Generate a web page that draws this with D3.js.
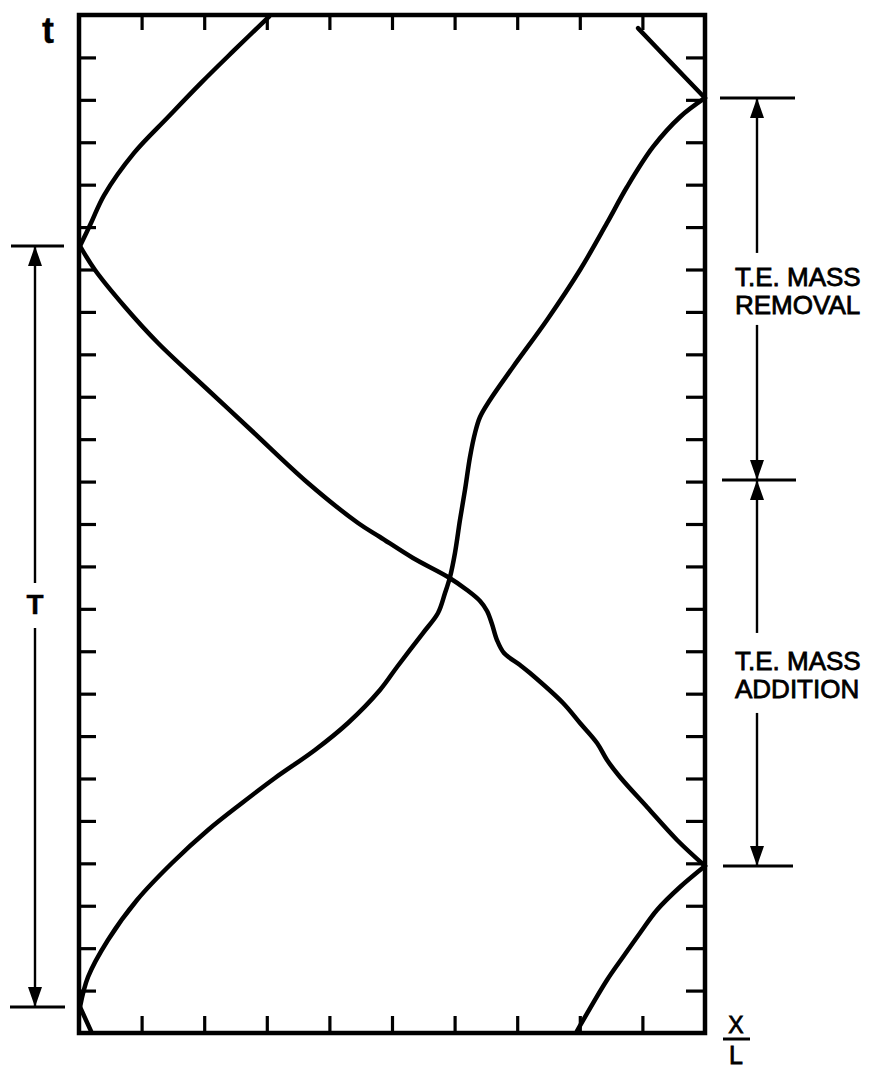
<!DOCTYPE html>
<html>
<head>
<meta charset="utf-8">
<script src="https://cdn.jsdelivr.net/npm/d3@7"></script>
<style>
  html, body { margin: 0; padding: 0; background: #fff; }
  svg { display: block; }
  text { font-family: "Liberation Sans", Arial, sans-serif; fill: #000; }
</style>
</head>
<body>
<div id="chart"></div>
<script>
// x/L positions of the ticks and t positions (in tick units)
const xTicks = [0.1, 0.2, 0.3, 0.4, 0.5, 0.6, 0.7, 0.8, 0.9];
const tTicks = d3.range(1, 24);

// wave paths: [x/L, t]
const waveUp = [
  [0.0016, 0.613], [0.0144, 1.320], [0.0463, 2.193], [0.0927, 3.136], [0.1486, 4.008],
  [0.2061, 4.786], [0.2604, 5.422], [0.3131, 6.012], [0.3770, 6.672], [0.4297, 7.309],
  [0.4808, 8.087], [0.5080, 8.629], [0.5495, 9.430], [0.5735, 9.902], [0.5847, 10.373],
  [0.5927, 10.751], [0.6006, 11.316], [0.6086, 12.095], [0.6166, 12.802], [0.6246, 13.580],
  [0.6326, 14.146], [0.6406, 14.523], [0.6565, 14.924], [0.6933, 15.702], [0.7476, 16.810],
  [0.8003, 17.988], [0.8435, 19.097], [0.8754, 19.945], [0.9169, 20.889], [0.9601, 21.596],
  [1.0, 22.044]
];
const waveDown = [
  [0.0016, 18.554], [0.0256, 17.988], [0.0735, 17.116], [0.1262, 16.267], [0.2061, 15.159],
  [0.2764, 14.193], [0.3658, 12.967], [0.4457, 12.024], [0.4808, 11.694], [0.5335, 11.199],
  [0.5895, 10.751], [0.6198, 10.444], [0.6406, 10.185], [0.6518, 9.949], [0.6597, 9.643],
  [0.6677, 9.265], [0.6789, 8.959], [0.7045, 8.676], [0.7204, 8.487], [0.7732, 7.780],
  [0.8003, 7.309], [0.8275, 6.837], [0.8435, 6.436], [0.8642, 6.035], [0.9073, 5.328],
  [0.9553, 4.550], [1.0, 3.937]
];
const waveTopLeft = [
  [0.0016, 18.554], [0.019, 19.09], [0.040, 19.75], [0.088, 20.75], [0.142, 21.59],
  [0.195, 22.40], [0.248, 23.17], [0.304, 23.97]
];
const waveTopRight = [[1.0, 22.044], [0.946, 22.87], [0.893, 23.69]];
const waveBottomRight = [
  [1.0, 3.937], [0.9601, 3.442], [0.9233, 2.900], [0.8962, 2.358], [0.8690, 1.792],
  [0.8435, 1.250], [0.7955, 0.047]
];
const waveBottomLeft = [[0.0016, 0.613], [0.019, 0.05]];

// bracket spans (t values)
const periodSpan = [0.613, 18.554];
const removalSpan = [13.04, 22.044];
const additionSpan = [3.937, 13.04];

const width = 873, height = 1068;
const svg = d3.select("#chart").append("svg")
  .attr("width", width).attr("height", height);

const x = d3.scaleLinear().domain([0, 1]).range([79, 705]);
const y = d3.scaleLinear().domain([0, 24]).range([1033, 15]);

// inward ticks on all four sides
svg.append("g").attr("transform", `translate(0,${y(0)})`)
  .call(d3.axisBottom(x).tickValues(xTicks).tickSize(-17).tickSizeOuter(0).tickFormat(""));
svg.append("g").attr("transform", `translate(0,${y(24)})`)
  .call(d3.axisTop(x).tickValues(xTicks).tickSize(-15).tickSizeOuter(0).tickFormat(""));
svg.append("g").attr("transform", `translate(${x(0)},0)`)
  .call(d3.axisLeft(y).tickValues(tTicks).tickSize(-17).tickSizeOuter(0).tickFormat(""));
svg.append("g").attr("transform", `translate(${x(1)},0)`)
  .call(d3.axisRight(y).tickValues(tTicks).tickSize(-19).tickSizeOuter(0).tickFormat(""));
svg.selectAll(".domain").remove();
svg.selectAll(".tick line").attr("stroke", "#000").attr("stroke-width", 3.2);

svg.append("rect")
  .attr("x", x(0)).attr("y", y(24))
  .attr("width", x(1) - x(0)).attr("height", y(0) - y(24))
  .attr("fill", "none").attr("stroke", "#000").attr("stroke-width", 4.5);

// wave curves
const line = d3.line().x((d) => x(d[0])).y((d) => y(d[1])).curve(d3.curveCatmullRom.alpha(0.5));
[waveUp, waveDown, waveTopLeft, waveTopRight, waveBottomRight, waveBottomLeft].forEach((w) => {
  svg.append("path").attr("d", line(w))
    .attr("fill", "none").attr("stroke", "#000")
    .attr("stroke-width", 4.5).attr("stroke-linecap", "round");
});

// bracket helpers
function hline(y0, x0, x1) {
  svg.append("line").attr("x1", x0).attr("x2", x1).attr("y1", y0).attr("y2", y0)
    .attr("stroke", "#000").attr("stroke-width", 3);
}
function vline(x0, y0, y1) {
  svg.append("line").attr("x1", x0).attr("x2", x0).attr("y1", y0).attr("y2", y1)
    .attr("stroke", "#000").attr("stroke-width", 2.4);
}
function arrow(x0, tipY, dir) {
  // dir = -1 points up, +1 points down
  const base = tipY - dir * 20;
  svg.append("path")
    .attr("d", `M${x0},${tipY} L${x0 - 7},${base} L${x0 + 7},${base} Z`)
    .attr("fill", "#000");
}
function label(xp, yp, txt, size, anchor) {
  return svg.append("text").attr("x", xp).attr("y", yp)
    .attr("text-anchor", anchor || "start").attr("font-size", size)
    .attr("stroke", "#000").attr("stroke-width", 0.8)
    .text(txt);
}

// period T on the left
const lx = 35;
const pTop = y(periodSpan[1]), pBot = y(periodSpan[0]);
hline(pTop, 11, 64);
hline(pBot, 10, 65);
vline(lx, pTop, 583);
vline(lx, 628, pBot);
arrow(lx, pTop, -1);
arrow(lx, pBot, 1);
label(lx, 614, "T", 28, "middle").attr("font-weight", "bold").attr("stroke-width", 0.4);

// right brackets
const rx = 757;
function bracket(span, lines, gap) {
  const top = y(span[1]), bot = y(span[0]);
  const mid = (top + bot) / 2;
  vline(rx, top, mid - gap);
  vline(rx, mid + gap, bot);
  arrow(rx, top, -1);
  arrow(rx, bot, 1);
  label(735, mid - 3, lines[0], 26);
  label(735, mid + 25, lines[1], 26);
}
hline(y(removalSpan[1]), 720, 795);
hline(y(removalSpan[0]), 722, 796);
hline(y(additionSpan[0]), 723, 793);
bracket(removalSpan, ["T.E. MASS", "REMOVAL"], 36);
bracket(additionSpan, ["T.E. MASS", "ADDITION"], 40);

// axis labels
label(48, 43, "t", 36, "middle").attr("font-weight", "bold").attr("stroke-width", 0.3);
label(736, 1033, "X", 23, "middle");
hline(1039, 723, 750);
label(736, 1064, "L", 25, "middle");
</script>
</body>
</html>
